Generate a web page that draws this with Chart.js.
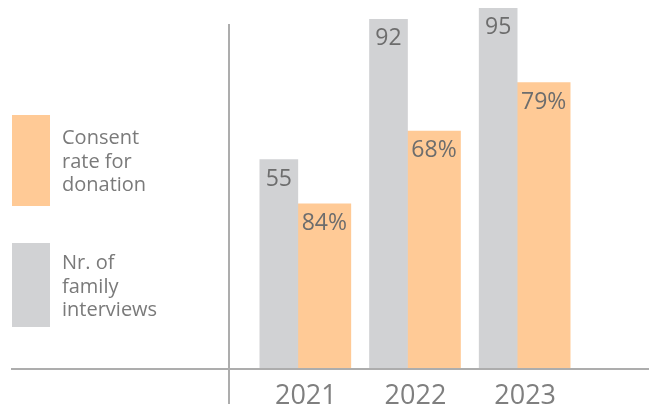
<!DOCTYPE html>
<html>
<head>
<meta charset="utf-8">
<script src="https://cdn.jsdelivr.net/npm/chart.js@4"></script>
<style>
  html, body { margin: 0; padding: 0; background: #fff; overflow: hidden; }
  .wrap { position: relative; width: 649px; height: 409px; overflow: hidden; }
  canvas { position: absolute; left: 0; top: 0; }
  .legend-box { position: absolute; left: 12px; width: 38px; height: 91px; }
  .legend-text { position: absolute; left: 62px; font-family: 'Open Sans', sans-serif; font-size: 20px; line-height: 23.5px; color: #7a7a7a; }
</style>
</head>
<body>
<div class="wrap">
  <canvas id="myChart" width="649" height="430"></canvas>
  <div id="legend"></div>
</div>
<script>
const years = ['2021', '2022', '2023'];
const interviews = [55, 92, 95];
const consents = [43.3, 62.5, 75.3];
const consentLabels = ['84%', '68%', '79%'];
const legendLines = [['Consent', 'rate for', 'donation'], ['Nr. of', 'family', 'interviews']];

const grey = '#d1d2d4';
const orange = '#ffca96';

// axis lines are longer than the plot area, so they are drawn by hand
const axisLines = {
  id: 'axisLines',
  afterDatasetsDraw(chart) {
    const { ctx, chartArea } = chart;
    ctx.save();
    ctx.strokeStyle = '#adadad';
    ctx.lineWidth = 2;
    ctx.beginPath();
    ctx.moveTo(11, chartArea.bottom + 1);
    ctx.lineTo(chart.width, chartArea.bottom + 1);
    ctx.moveTo(229, 24);
    ctx.lineTo(229, 404);
    ctx.stroke();
    ctx.restore();
  }
};

const barLabels = {
  id: 'barLabels',
  afterDatasetsDraw(chart) {
    const ctx = chart.ctx;
    ctx.save();
    ctx.font = '23px "Open Sans"';
    ctx.fillStyle = '#6d6d6d';
    ctx.textAlign = 'center';
    ctx.textBaseline = 'alphabetic';
    chart.data.datasets.forEach((ds, i) => {
      chart.getDatasetMeta(i).data.forEach((bar, j) => {
        ctx.fillText(ds.valueLabels[j], bar.x, bar.y + 26);
      });
    });
    ctx.restore();
  }
};

const ctx = document.getElementById('myChart').getContext('2d');
const myChart = new Chart(ctx, {
  type: 'bar',
  data: {
    labels: years,
    datasets: [{
      label: 'Nr. of family interviews',
      data: interviews,
      valueLabels: interviews.map(String),
      backgroundColor: grey,
      barThickness: 38
    }, {
      label: 'Consent rate for donation',
      data: consents,
      valueLabels: consentLabels,
      backgroundColor: orange,
      barThickness: 53
    }]
  },
  options: {
    responsive: false,
    animation: false,
    layout: { padding: { left: 243, right: 77, top: 8, bottom: 5 } },
    plugins: { legend: { display: false }, tooltip: { enabled: false } },
    scales: {
      x: {
        grid: { display: false, drawTicks: false },
        border: { display: false },
        ticks: {
          color: '#7f7f7f',
          font: { family: 'Open Sans', size: 27, lineHeight: 1 },
          padding: 15,
          labelOffset: 8
        }
      },
      y: { display: false, min: 0, max: 95 }
    }
  },
  plugins: [axisLines, barLabels]
});

// legend: orange on top, grey below
const legend = document.getElementById('legend');
const legendTops = [[115, 125], [243, 250]];
[1, 0].forEach((dsIndex, k) => {
  const ds = myChart.data.datasets[dsIndex];
  const box = document.createElement('div');
  box.className = 'legend-box';
  box.style.top = legendTops[k][0] + 'px';
  box.style.height = (k === 0 ? 91 : 84) + 'px';
  box.style.background = ds.backgroundColor;
  legend.appendChild(box);
  const text = document.createElement('div');
  text.className = 'legend-text';
  text.style.top = legendTops[k][1] + 'px';
  text.innerHTML = legendLines[k].join('<br>');
  legend.appendChild(text);
});
</script>
</body>
</html>
